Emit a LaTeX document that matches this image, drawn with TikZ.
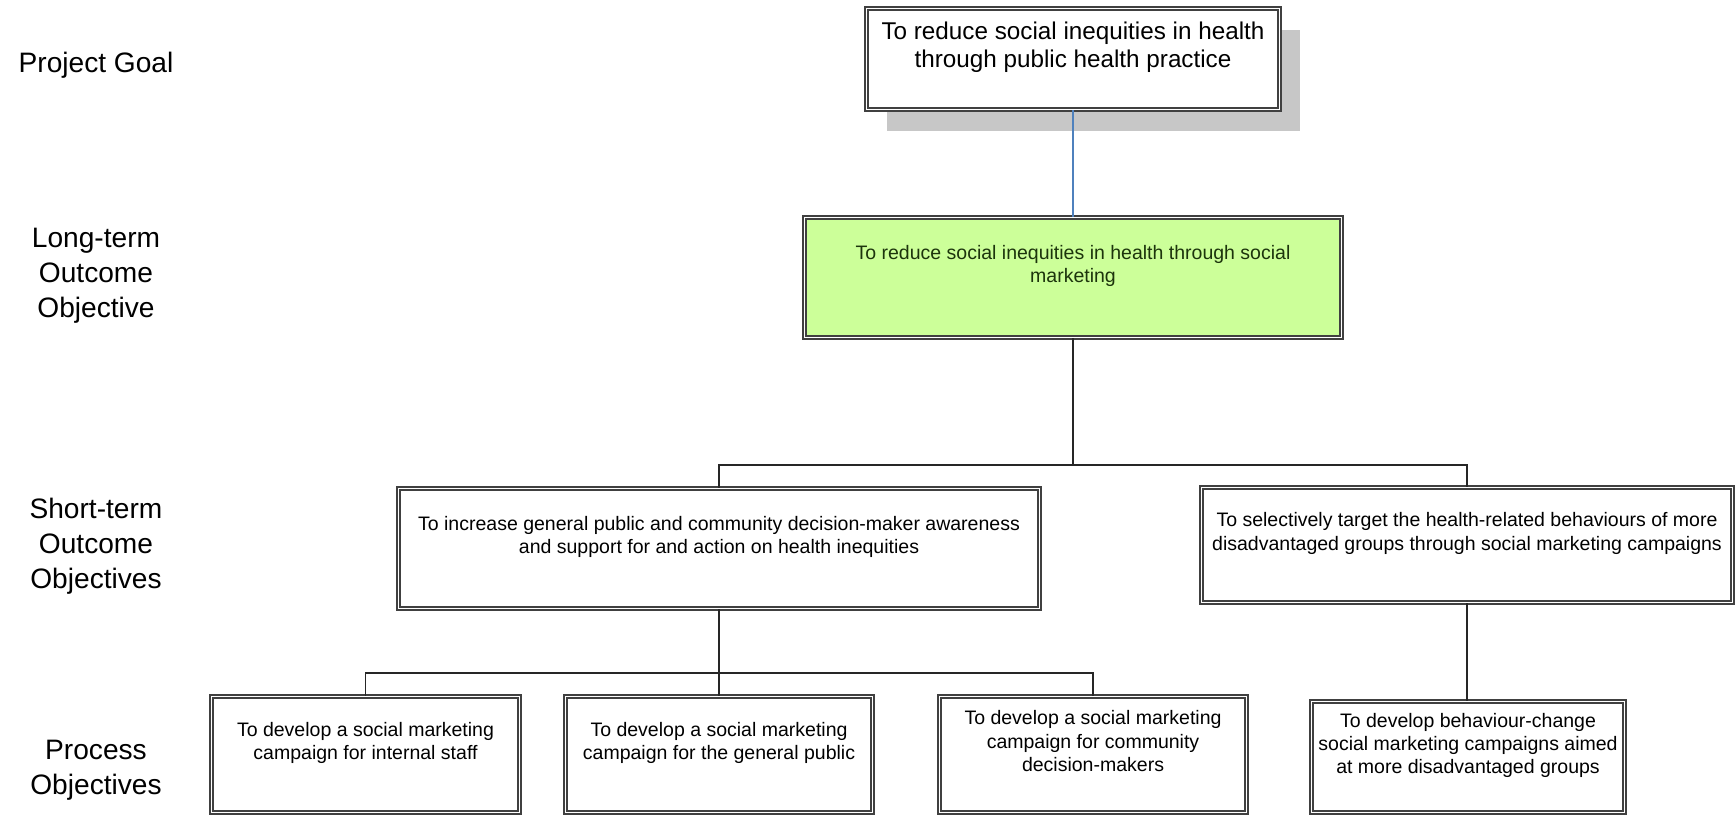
\documentclass[tikz,border=0pt]{standalone}
\usepackage{fontspec}
\setmainfont{Liberation Sans}
\usetikzlibrary{positioning, shadows}
\definecolor{leafgreen}{RGB}{204,255,153}
\definecolor{darkleaf}{RGB}{28,52,12}
\definecolor{linkblue}{RGB}{79,129,189}

\begin{document}
\begin{tikzpicture}[objbox/.style={draw=black!75, line width=.45pt, double, double distance=.5pt, fill=white, align=center, inner sep=0pt, text depth=.27cm, font=\fontsize{5.55}{6.6}\selectfont},
		lvl/.style={align=center, font=\fontsize{8}{9.9}\selectfont},
		link/.style={line width=.55pt, black!85}]
		\useasboundingbox (0,0) rectangle (17.36,-8.17);
		% level names on the left
		\node[lvl] (lgoal) at (0.96,-0.65) {Project Goal};
		\node[lvl] (llong) at (0.96,-2.76) {Long-term\\Outcome\\Objective};
		\node[lvl] (lshort) at (0.96,-5.46) {Short-term\\Outcome\\Objectives};
		\node[lvl] (lproc) at (0.96,-7.70) {Process\\Objectives};
		% objective boxes
		\node[objbox, minimum width=4.13cm, minimum height=1.01cm, text depth=.29cm, font=\fontsize{6.9}{7.94}\selectfont,
			drop shadow={shadow xshift=.2cm, shadow yshift=-.21cm, fill=black!22, opacity=1}] (goal) at (10.73,-0.59) {To reduce social inequities in health\\through public health practice};
		\node[objbox, fill=leafgreen, text=darkleaf, minimum width=5.37cm, minimum height=1.2cm] (long) at (10.73,-2.775) {To reduce social inequities in health through social\\marketing};
		\node[objbox, minimum width=6.41cm, minimum height=1.2cm] (short1) at (7.19,-5.485) {To increase general public and community decision-maker awareness\\and support for and action on health inequities};
		\node[objbox, minimum width=5.31cm, minimum height=1.15cm] (short2) at (14.67,-5.45) {To selectively target the health-related behaviours of more\\disadvantaged groups through social marketing campaigns};
		\node[objbox, minimum width=3.08cm, minimum height=1.16cm] (proc1) at (3.655,-7.545) {To develop a social marketing\\campaign for internal staff};
		\node[objbox, minimum width=3.07cm, minimum height=1.16cm] (proc2) at (7.19,-7.545) {To develop a social marketing\\campaign for the general public};
		\node[objbox, minimum width=3.07cm, minimum height=1.16cm] (proc3) at (10.93,-7.545) {To develop a social marketing\\campaign for community\\decision-makers};
		\node[objbox, minimum width=3.13cm, minimum height=1.11cm] (proc4) at (14.68,-7.57) {To develop behaviour-change\\social marketing campaigns aimed\\at more disadvantaged groups};
		% connectors
		\coordinate (fork1) at (10.73,-4.65);
		\coordinate (fork2) at (7.19,-6.73);
		\draw[linkblue, line width=.4pt] (goal.south) -- (long.north);
		\draw[link] (long.south) -- (fork1);
		\draw[link] (fork1) -| (short1.north);
		\draw[link] (fork1) -| (short2.north);
		\draw[link] (short1.south) -- (fork2);
		\draw[link] (fork2) -| (proc1.north);
		\draw[link] (fork2) -- (proc2.north);
		\draw[link] (fork2) -| (proc3.north);
		\draw[link] (short2.south) -- (short2.south |- proc4.north);
	\end{tikzpicture}
\end{document}
